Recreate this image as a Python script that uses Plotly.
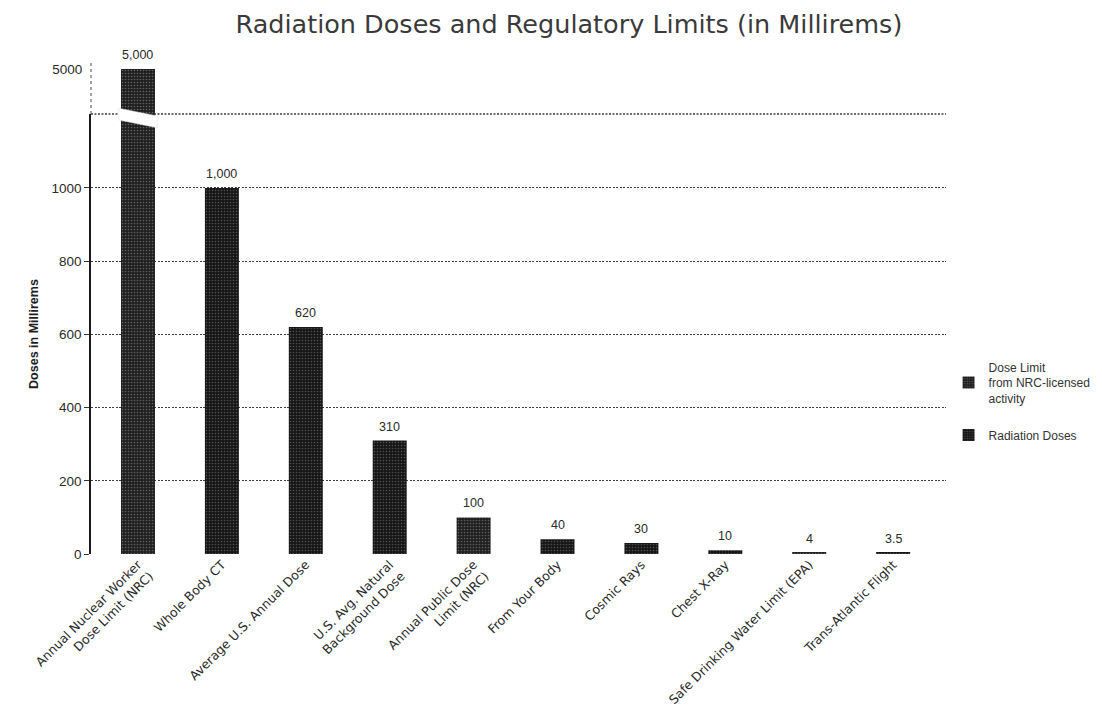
import plotly.graph_objects as go
from plotly.subplots import make_subplots

categories = [
    "Annual Nuclear Worker<br>Dose Limit (NRC)",
    "Whole Body CT",
    "Average U.S. Annual Dose",
    "U.S. Avg. Natural<br>Background Dose",
    "Annual Public Dose<br>Limit (NRC)",
    "From Your Body",
    "Cosmic Rays",
    "Chest X-Ray",
    "Safe Drinking Water Limit (EPA)",
    "Trans-Atlantic Flight",
]
values = [5000, 1000, 620, 310, 100, 40, 30, 10, 4, 3.5]
value_labels = ["5,000", "1,000", "620", "310", "100", "40", "30", "10", "4", "3.5"]
kinds = ["limit", "dose", "dose", "dose", "limit", "dose", "dose", "dose", "limit", "dose"]

series_names = {
    "limit": "Dose Limit<br>from NRC-licensed<br>activity",
    "dose": "Radiation Doses",
}
lower_ticks = [0, 200, 400, 600, 800, 1000]
upper_ticks = [5000]

fig = make_subplots(rows=2, cols=1, shared_xaxes=True, vertical_spacing=0,
                    row_heights=[0.104, 0.896])

styles = {
    "limit": dict(color="#202020", pattern=dict(shape=".", fgcolor="#a8a8a8", size=3, solidity=0.24)),
    "dose": dict(color="#161616", pattern=dict(shape=".", fgcolor="#8f8f8f", size=3, solidity=0.22)),
}

for kind in ["limit", "dose"]:
    xs = [c for c, k in zip(categories, kinds) if k == kind]
    ys = [v for v, k in zip(values, kinds) if k == kind]
    for row in (1, 2):
        fig.add_trace(go.Bar(
            x=xs, y=ys, name=series_names[kind], width=0.405,
            marker=dict(color=styles[kind]["color"], pattern=styles[kind]["pattern"],
                        line=dict(width=0)),
            showlegend=(row == 2), legendgroup=kind,
        ), row=row, col=1)

# value labels above bars
for c, v, lab in zip(categories, values, value_labels):
    on_upper = v > 1200
    fig.add_annotation(
        x=c, y=v, text=lab, showarrow=False, yanchor="bottom", yshift=5,
        xref="x", yref="y" if on_upper else "y2",
        font=dict(family="Liberation Sans", size=12.5, color="#2a2a2a"),
    )

grid = dict(showgrid=True, gridcolor="#3f3f3f", gridwidth=1.3, griddash="2px,1.5px")
ytickfont = dict(family="Liberation Sans", size=13.5, color="#2a2a2a")
xtickfont = dict(family="DejaVu Sans", size=12.5, color="#2a2a2a")

fig.update_xaxes(categoryorder="array", categoryarray=categories, automargin=False,
                 range=[-0.56, 9.63])
fig.update_xaxes(row=1, col=1, showticklabels=False, showgrid=False, showline=False, ticks="")
fig.update_xaxes(row=2, col=1, tickangle=-45, tickfont=xtickfont, showgrid=False,
                 showline=False, ticks="")

fig.update_yaxes(automargin=False)
fig.update_yaxes(row=1, col=1, range=[4850, 5020], tickvals=upper_ticks,
                 ticktext=[str(t) for t in upper_ticks], showgrid=False,
                 zeroline=False, tickfont=ytickfont, ticks="outside", ticklen=5,
                 tickcolor="rgba(0,0,0,0)", showline=False)
fig.update_yaxes(row=2, col=1, range=[0, 1202], tickvals=lower_ticks,
                 ticktext=[str(t) for t in lower_ticks], zeroline=False,
                 tickfont=ytickfont, ticks="outside", ticklen=5, tickcolor="#333",
                 showline=True, linecolor="#1a1a1a", linewidth=1.6,
                 title=dict(text="<b>Doses in Millirems</b>", standoff=10,
                            font=dict(family="Liberation Sans", size=12.5, color="#1e1e1e")),
                 **grid)

shapes = []
# break line across the plot
shapes.append(dict(type="line", xref="paper", yref="paper", x0=0, x1=1, y0=0.896, y1=0.896,
                   line=dict(color="#3f3f3f", width=1.4, dash="2px,1.5px")))
# dotted upper part of the y axis
shapes.append(dict(type="line", xref="paper", yref="paper", x0=0, x1=0, y0=0.896, y1=1.0,
                   line=dict(color="#666", width=1.2, dash="dot")))
# white break slash on the broken bar
shapes.append(dict(type="path", xref="x", yref="paper",
                   path="M -0.23 0.908 L 0.23 0.892 L 0.23 0.868 L -0.23 0.884 Z",
                   fillcolor="white", line=dict(color="#ddd", width=0.5), layer="above"))
# scan bottom edge
shapes.append(dict(type="line", xref="paper", yref="paper", x0=-0.1, x1=1.2, y0=-0.338, y1=-0.338,
                   line=dict(color="#444", width=2, dash="dot")))
fig.update_layout(shapes=shapes)

fig.update_layout(
    width=1102, height=717,
    margin=dict(l=83, r=164, t=55, b=171, autoexpand=False),
    paper_bgcolor="white", plot_bgcolor="white",
    barmode="overlay",
    title=dict(text="Radiation Doses and Regulatory Limits (in Millirems)",
               x=0.509, xanchor="center", y=0.99, yanchor="top",
               font=dict(family="DejaVu Sans", size=25.5, color="#3a3a3a")),
    legend=dict(x=1.003, y=0.41, xanchor="left", yanchor="top",
                traceorder="grouped", tracegroupgap=18, itemwidth=30,
                font=dict(family="Liberation Sans", size=12, color="#333"),
                bgcolor="rgba(0,0,0,0)"),
    font=dict(family="Liberation Sans"),
)

fig.write_html("out.html")
